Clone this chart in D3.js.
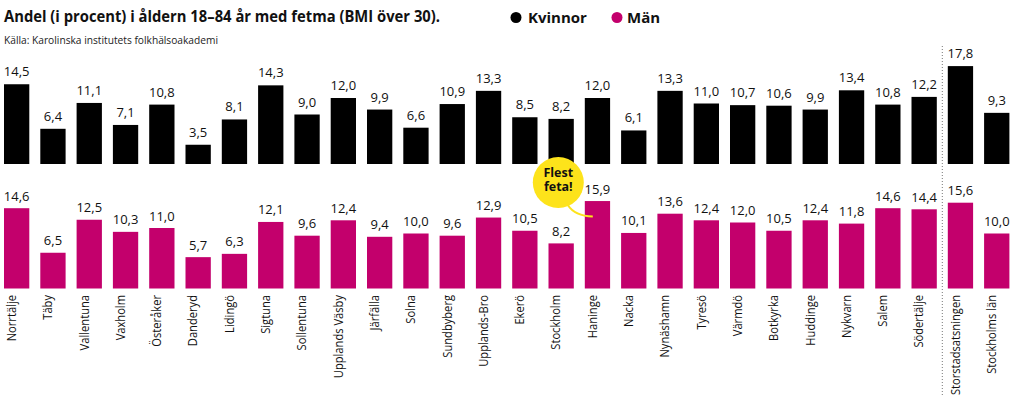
<!DOCTYPE html>
<html>
<head>
<meta charset="utf-8">
<script src="https://cdn.jsdelivr.net/npm/d3@7"></script>
<style>
  html, body { margin: 0; padding: 0; background: #fff; }
  #chart { width: 1010px; height: 395px; }
  text { font-family: "Open Sans", "Noto Sans", sans-serif; }
</style>
</head>
<body>
<div id="chart"></div>
<script>
// Data
const categories = ['Norrtälje', 'Täby', 'Vallentuna', 'Vaxholm', 'Österåker', 'Danderyd', 'Lidingö',
  'Sigtuna', 'Sollentuna', 'Upplands Väsby', 'Järfälla', 'Solna', 'Sundbyberg', 'Upplands-Bro',
  'Ekerö', 'Stockholm', 'Haninge', 'Nacka', 'Nynäshamn', 'Tyresö', 'Värmdö', 'Botkyrka',
  'Huddinge', 'Nykvarn', 'Salem', 'Södertälje', 'Storstadsatsningen', 'Stockholms län'];
const women = [14.5, 6.4, 11.1, 7.1, 10.8, 3.5, 8.1, 14.3, 9.0, 12.0, 9.9, 6.6, 10.9, 13.3,
  8.5, 8.2, 12.0, 6.1, 13.3, 11.0, 10.7, 10.6, 9.9, 13.4, 10.8, 12.2, 17.8, 9.3];
const men = [14.6, 6.5, 12.5, 10.3, 11.0, 5.7, 6.3, 12.1, 9.6, 12.4, 9.4, 10.0, 9.6, 12.9,
  10.5, 8.2, 15.9, 10.1, 13.6, 12.4, 12.0, 10.5, 12.4, 11.8, 14.6, 14.4, 15.6, 10.0];
const seriesNames = ['Kvinnor', 'Män'];
const calloutLines = ['Flest', 'feta!'];
const highlightCategory = 'Haninge';
const separatorAfter = 'Södertälje';

const width = 1010, height = 395;
const colBlack = '#000000';
const colPink = '#c3006c';
const colYellow = '#fde31b';

const svg = d3.select('#chart').append('svg')
  .attr('width', width).attr('height', height);

// scales
const x = d3.scaleBand()
  .domain(categories)
  .range([4, 1009.4])
  .paddingInner(0.303)
  .paddingOuter(0);

const h = d3.scaleLinear().domain([0, 18]).range([0, 99]);

const fmt = v => d3.format('.1f')(v).replace('.', ',');

// title & source
svg.append('text')
  .attr('x', 4).attr('y', 22)
  .attr('font-size', 15.5).attr('font-weight', 700)
  .attr('textLength', 436).attr('lengthAdjust', 'spacingAndGlyphs')
  .attr('fill', '#111')
  .text('Andel (i procent) i åldern 18–84 år med fetma (BMI över 30).');

svg.append('text')
  .attr('x', 4).attr('y', 44)
  .attr('font-size', 11)
  .attr('textLength', 214).attr('lengthAdjust', 'spacingAndGlyphs')
  .attr('fill', '#222')
  .text('Källa: Karolinska institutets folkhälsoakademi');

// legend
const legend = svg.append('g');
[[516, colBlack, 528], [617, colPink, 627]].forEach((d, i) => {
  legend.append('circle').attr('cx', d[0]).attr('cy', 17.5).attr('r', 5.5).attr('fill', d[1]);
  legend.append('text').attr('x', d[2]).attr('y', 23)
    .attr('font-size', 15).attr('font-weight', 700).attr('fill', '#111')
    .text(seriesNames[i]);
});

// bar panels
function drawPanel(values, baseY, color, gap) {
  const g = svg.append('g');
  g.selectAll('rect')
    .data(values)
    .enter()
    .append('rect')
    .attr('x', (d, i) => x(categories[i]))
    .attr('width', x.bandwidth())
    .attr('y', d => baseY - h(d))
    .attr('height', d => h(d))
    .attr('fill', color);

  g.selectAll('text')
    .data(values)
    .enter()
    .append('text')
    .attr('x', (d, i) => x(categories[i]) + x.bandwidth() / 2)
    .attr('y', d => baseY - h(d) - gap)
    .attr('text-anchor', 'middle')
    .attr('font-size', 13)
    .attr('fill', '#111')
    .text(d => fmt(d));
}

drawPanel(women, 164, colBlack, 8);
drawPanel(men, 288.5, colPink, 7.5);

// category labels (rotated)
svg.append('g').selectAll('text')
  .data(categories)
  .enter()
  .append('text')
  .attr('transform', d => `translate(${x(d) + 12},295) rotate(-90) scale(0.93,1)`)
  .attr('text-anchor', 'end')
  .attr('font-size', 12)
  .attr('fill', '#111')
  .text(d => d);

// dotted separator
const sepX = x(separatorAfter) + x.bandwidth() + (x.step() - x.bandwidth()) / 2;
svg.append('line')
  .attr('x1', sepX).attr('x2', sepX)
  .attr('y1', 46).attr('y2', height)
  .attr('stroke', '#777')
  .attr('stroke-width', 1)
  .attr('stroke-dasharray', '1,2');

// callout "Flest feta!"
const hx = x(highlightCategory);
const cx = hx - 26.5;
const callout = svg.append('g');
callout.append('path')
  .attr('d', `M ${hx - 17} 205 Q ${hx - 10} 216 ${hx + 8} 216.5`)
  .attr('fill', 'none')
  .attr('stroke', colYellow)
  .attr('stroke-width', 2);
callout.append('circle')
  .attr('cx', cx).attr('cy', 182.5).attr('r', 25.5)
  .attr('fill', colYellow);
const ct = callout.append('text')
  .attr('x', cx).attr('y', 177)
  .attr('text-anchor', 'middle')
  .attr('font-size', 12.5).attr('font-weight', 700).attr('fill', '#111');
ct.selectAll('tspan')
  .data(calloutLines)
  .enter()
  .append('tspan')
  .attr('x', cx)
  .attr('dy', (d, i) => i === 0 ? 0 : 14)
  .text(d => d);
</script>
</body>
</html>
